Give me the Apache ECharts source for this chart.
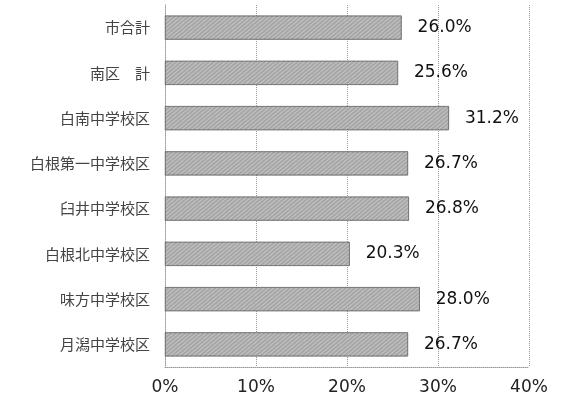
<!DOCTYPE html>
<html>
<head>
<meta charset="utf-8">
<script src="https://cdn.jsdelivr.net/npm/echarts@6/dist/echarts.min.js"></script>
<style>
  html, body { margin: 0; padding: 0; background: #fff; }
  #chart { width: 563px; height: 407px; }
</style>
</head>
<body>
<div id="chart"></div>
<script>
// School districts, listed top to bottom
const categories = ['市合計', '南区　計', '白南中学校区', '白根第一中学校区', '臼井中学校区', '白根北中学校区', '味方中学校区', '月潟中学校区'];
// Share per district (%)
const values = [26.0, 25.6, 31.2, 26.7, 26.8, 20.3, 28.0, 26.7];
// Axis range and step (%)
const axisMin = 0;
const axisMax = 40;
const axisStep = 10;

const chart = echarts.init(document.getElementById('chart'), null, { renderer: 'canvas' });

chart.setOption({
  animation: false,
  backgroundColor: '#fff',
  grid: { left: 165, right: 34, top: 5, bottom: 40, containLabel: false },
  xAxis: {
    type: 'value',
    min: axisMin,
    max: axisMax,
    interval: axisStep,
    axisLine: { show: true, lineStyle: { color: '#999', type: 'dotted', width: 1 } },
    axisTick: { show: false },
    axisLabel: {
      formatter: v => v + '%',
      color: '#222',
      fontSize: 17,
      fontFamily: 'DejaVu Sans',
      margin: 12
    },
    splitLine: { show: true, lineStyle: { color: '#999', type: 'dotted', width: 1 } }
  },
  yAxis: {
    type: 'category',
    data: categories,
    inverse: true,
    axisLine: { show: true, lineStyle: { color: '#999', type: 'dotted', width: 1 } },
    axisTick: { show: false },
    axisLabel: {
      color: '#444',
      fontSize: 15,
      fontFamily: 'Noto Sans CJK JP',
      margin: 15
    }
  },
  series: [{
    type: 'bar',
    data: values,
    barWidth: '53%',
    itemStyle: {
      color: '#a6a6a6',
      borderColor: '#666',
      borderWidth: 0.6,
      decal: {
        symbol: 'rect',
        symbolSize: 1,
        dashArrayX: [1, 0],
        dashArrayY: [1, 2],
        rotation: -0.7,
        color: 'rgba(255,255,255,0.35)'
      }
    },
    label: {
      show: true,
      position: 'right',
      distance: 16,
      formatter: p => p.value.toFixed(1) + '%',
      color: '#111',
      fontSize: 17,
      fontFamily: 'DejaVu Sans'
    }
  }]
});
</script>
</body>
</html>
